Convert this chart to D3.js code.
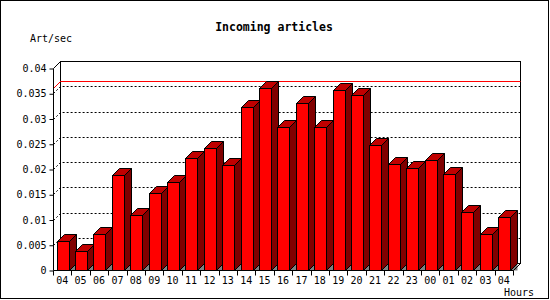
<!DOCTYPE html>
<html>
<head>
<meta charset="utf-8">
<script src="https://cdn.jsdelivr.net/npm/d3@7"></script>
<style>
  body { margin: 0; background: #fff; }
  svg { display: block; }
  text { font-family: "DejaVu Sans Mono", monospace; font-size: 10px; fill: #000; }
</style>
</head>
<body>
<div class="chart"></div>
<script>
// hours on the x axis
const hours = ["04", "05", "06", "07", "08", "09", "10", "11", "12", "13", "14", "15", "16",
  "17", "18", "19", "20", "21", "22", "23", "00", "01", "02", "03", "04"];
// articles per second
const rates = [0.0057, 0.0038, 0.0071, 0.0188, 0.0109, 0.0152, 0.0174, 0.0221, 0.0241, 0.0207,
  0.0322, 0.036, 0.0283, 0.033, 0.0283, 0.0356, 0.0346, 0.0247, 0.0209, 0.0201, 0.0218, 0.019,
  0.0114, 0.0071, 0.0104];
const yTicks = [0, 0.005, 0.01, 0.015, 0.02, 0.025, 0.03, 0.035, 0.04];

const width = 550;
const height = 300;
const depth = 7; // 3d offset

const svg = d3.select(".chart").append("svg")
  .attr("width", width)
  .attr("height", height);

// outer frame
svg.append("rect")
  .attr("x", 0.5).attr("y", 0.5)
  .attr("width", 548).attr("height", 298)
  .attr("fill", "#fff")
  .attr("stroke", "#000");

const x = d3.scaleBand().domain(d3.range(hours.length)).range([53, 513]);
const yFront = d3.scaleLinear().domain([0, 0.04]).range([270, 68]);
const yF = (v) => Math.round(yFront(v)) + 0.5;
const yB = (v) => yF(v) - depth;
const xl = x.range()[0] + 0.5, xr = x.range()[1] + 0.5;

// back wall
svg.append("rect")
  .attr("x", xl + depth).attr("y", yB(0.04))
  .attr("width", xr - xl).attr("height", yF(0) - yF(0.04))
  .attr("fill", "none").attr("stroke", "#000");

// dotted grid
const grid = yTicks.filter((d) => d > 0 && d < 0.04);
svg.selectAll("path.grid")
  .data(grid)
  .enter()
  .append("path")
  .attr("class", "grid")
  .attr("d", (d) => `M${xl},${yF(d)}L${xl + depth},${yB(d)}H${xr + depth}`)
  .attr("fill", "none")
  .attr("stroke", "#000")
  .attr("stroke-dasharray", "2,2");

// max line
const maxVal = d3.max(rates);
svg.append("path")
  .attr("d", `M${xl},${yF(maxVal)}L${xl + depth},${yB(maxVal)}H${xr + depth}`)
  .attr("fill", "none")
  .attr("stroke", "#ff0000");

// bars
const bw = 11.5;
const bars = svg.selectAll("g.bar")
  .data(rates)
  .enter()
  .append("g")
  .attr("class", "bar");

bars.each(function (d, i) {
  const g = d3.select(this);
  const x0 = Math.round(x(i) + 3.5) + 0.5;
  const x1 = x0 + Math.round(bw);
  const y0 = yF(0);
  const yt = yF(d);
  // floor shadow
  g.append("path")
    .attr("d", `M${x1},${y0}L${x1 + depth},${y0 - depth}V${y0}Z`)
    .attr("fill", "#808080");
  // side
  g.append("path")
    .attr("d", `M${x1},${yt}L${x1 + depth},${yt - depth}V${y0 - depth}L${x1},${y0}Z`)
    .attr("fill", "#800000").attr("stroke", "#000");
  // top
  g.append("path")
    .attr("d", `M${x0},${yt}L${x0 + depth},${yt - depth}H${x1 + depth}L${x1},${yt}Z`)
    .attr("fill", "#c00000").attr("stroke", "#000");
  // front
  g.append("rect")
    .attr("x", x0).attr("y", yt)
    .attr("width", x1 - x0).attr("height", y0 - yt)
    .attr("fill", "#ff0000").attr("stroke", "#000");
});

// front axes
svg.append("path")
  .attr("d", `M${xl + depth},${yB(0.04)}L${xl},${yF(0.04)}V${yF(0)}H${xr}L${xr + depth},${yB(0)}`)
  .attr("fill", "none").attr("stroke", "#000");

// y axis
const yAxis = d3.axisLeft(yFront)
  .tickValues(yTicks)
  .tickSize(4)
  .tickSizeOuter(0)
  .tickPadding(3)
  .tickFormat((d) => (d === 0 ? "0" : String(+d.toFixed(3))));
const ya = svg.append("g").attr("transform", `translate(${xl},0.5)`).call(yAxis);
ya.select(".domain").remove();
ya.selectAll("text").style("font-family", null).style("font-size", null);

// x axis ticks at band edges
svg.selectAll("line.xtick")
  .data(d3.range(hours.length + 1))
  .enter()
  .append("line")
  .attr("x1", (i) => Math.round(x.range()[0] + i * x.bandwidth()) + 0.5)
  .attr("x2", (i) => Math.round(x.range()[0] + i * x.bandwidth()) + 0.5)
  .attr("y1", yF(0))
  .attr("y2", yF(0) + 5)
  .attr("stroke", "#000");

svg.selectAll("text.hour")
  .data(hours)
  .enter()
  .append("text")
  .attr("class", "hour")
  .attr("x", (d, i) => x(i) + x.bandwidth() / 2)
  .attr("y", 284)
  .attr("text-anchor", "middle")
  .text((d) => d);

// titles
svg.append("text")
  .attr("x", 274).attr("y", 31)
  .attr("text-anchor", "middle")
  .style("font-weight", "bold")
  .style("font-size", "11.5px")
  .text("Incoming articles");

svg.append("text")
  .attr("x", 30).attr("y", 42)
  .text("Art/sec");

svg.append("text")
  .attr("x", 504).attr("y", 296)
  .text("Hours");
</script>
</body>
</html>
